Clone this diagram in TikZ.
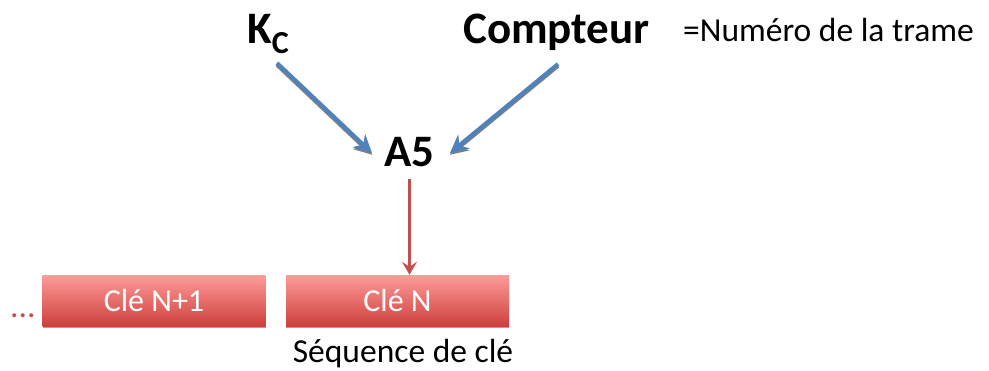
\documentclass[tikz,border=0pt]{standalone}
\usepackage{fontspec}
\setmainfont{Carlito}
\usetikzlibrary{arrows.meta,shadows}
\definecolor{blueA}{RGB}{79,129,189}
\definecolor{redA}{RGB}{192,80,77}
\definecolor{boxtop}{RGB}{255,155,154}
\definecolor{boxbot}{RGB}{205,64,60}
\tikzset{
  bigbold/.style={font=\fontsize{45}{50}\selectfont\bfseries, inner sep=0pt},
  plain/.style={font=\fontsize{33.5}{38}\selectfont, inner sep=0pt},
  bluearrow/.style={draw=blueA, line width=4pt, -{Stealth[length=18pt,width=18pt,inset=6pt]}},
  arrowshadow/.style={draw=black!50, line width=4pt, -{Stealth[length=18pt,width=18pt,inset=6pt]}},
  redarrow/.style={draw=redA, line width=3pt, -{Stealth[length=13pt,width=15pt,inset=5pt]}},
  keybox/.style={minimum width=223pt, minimum height=51pt, inner sep=0pt,
    top color=boxtop, bottom color=boxbot, draw=none,
    font=\fontsize{32}{36}\selectfont, text=white,
    drop shadow={shadow xshift=0pt, shadow yshift=-2pt, fill=black!45, opacity=0.8}}
}
\begin{document}
\begin{tikzpicture}[x=1pt,y=-1pt]
\useasboundingbox (0,0) rectangle (989,370);
\node[bigbold, anchor=base west] (kc) at (247,43) {K\raisebox{-10pt}{\fontsize{32}{34}\selectfont C}};
\node[bigbold, anchor=base west] (cpt) at (463,43) {Compteur};
\node[plain, anchor=base west] (num) at (683,41) {=Numéro de la trame};
\node[bigbold, anchor=base] (a5) at (409.5,166) {A5};
\node[keybox] (cn1) at (154,300.5) {Clé N+1};
\node[keybox] (cn) at (397.5,300.5) {Clé N};
\node[plain, text=redA, anchor=base west] (dots) at (10,317) {...};
\node[plain, anchor=base] (seq) at (403,362.5) {Séquence de clé};
% connectors
\coordinate (k1) at (277,63);
\coordinate (k2) at (372,153);
\coordinate (c1) at (558,64);
\coordinate (c2) at (450,153);
\draw[arrowshadow] ([shift={(0pt,-1.8pt)}]k1) -- ([shift={(0pt,-1.8pt)}]k2);
\draw[bluearrow] (k1) -- (k2);
\draw[arrowshadow] ([shift={(0pt,-1.8pt)}]c1) -- ([shift={(0pt,-1.8pt)}]c2);
\draw[bluearrow] (c1) -- (c2);
\draw[redarrow] ([yshift=-12pt]a5.south) -- (a5.south |- cn.north);
\end{tikzpicture}
\end{document}
